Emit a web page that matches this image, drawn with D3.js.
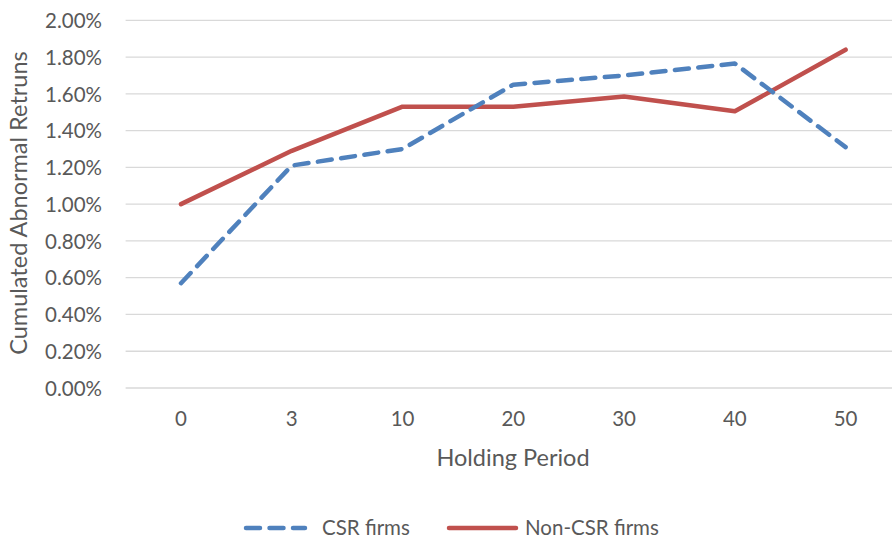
<!DOCTYPE html>
<html><head><meta charset="utf-8">
<script src="https://cdn.jsdelivr.net/npm/d3@7"></script>
<style>body{margin:0;background:#fff}svg{display:block;font-family:Lato,"Open Sans",sans-serif}</style>
</head><body>
<svg id="c" width="892" height="543"></svg>
<script>
const categories = ["0","3","10","20","30","40","50"];
const csrFirms = [0.57, 1.21, 1.30, 1.65, 1.70, 1.765, 1.31];
const nonCsrFirms = [1.00, 1.29, 1.53, 1.53, 1.585, 1.505, 1.84];
const yTicks = [0,0.2,0.4,0.6,0.8,1.0,1.2,1.4,1.6,1.8,2.0];
const seriesNames = ["CSR firms","Non-CSR firms"];

const svg = d3.select("#c");
const x = d3.scaleBand().domain(categories).range([125.6, 901]);
const y = d3.scaleLinear().domain([0, 2]).range([388, 20.3]);
const textCol = "#595959";
const fs = 20.5, fsTitle = 23.5;

// gridlines
svg.append("g").selectAll("line").data(yTicks).join("line")
  .attr("x1", 125.6).attr("x2", 901)
  .attr("y1", d => y(d)).attr("y2", d => y(d))
  .attr("stroke", "#d9d9d9").attr("stroke-width", 1.3);

// y axis labels
const yAxis = d3.axisLeft(y).tickValues(yTicks).tickFormat(d => d.toFixed(2) + "%").tickSize(0).tickPadding(0);
const gy = svg.append("g").attr("transform", "translate(102,0)").call(yAxis);
gy.select(".domain").remove();
gy.selectAll("text").attr("fill", textCol).attr("font-size", fs).attr("font-family", "Lato").attr("dy", "0.35em");

// x axis labels
const xAxis = d3.axisBottom(x).tickSize(0).tickPadding(0);
const gx = svg.append("g").attr("transform", "translate(0,419)").call(xAxis);
gx.select(".domain").remove();
gx.selectAll("text").attr("fill", textCol).attr("font-size", fs).attr("font-family", "Lato").attr("dy", "0.35em");

// axis titles
svg.append("text").attr("x", 513).attr("y", 466).attr("text-anchor", "middle")
  .attr("fill", textCol).attr("font-size", fsTitle).text("Holding Period");
svg.append("text").attr("transform", "translate(27,203) rotate(-90)").attr("text-anchor", "middle")
  .attr("fill", textCol).attr("font-size", fsTitle).text("Cumulated Abnormal Retruns");

const cx = d => x(d) + x.bandwidth() / 2;
const line = d3.line().x((d, i) => cx(categories[i])).y(d => y(d));

svg.append("path").datum(nonCsrFirms).attr("d", line).attr("fill", "none")
  .attr("stroke", "#C0504D").attr("stroke-width", 4.5).attr("stroke-linejoin", "round").attr("stroke-linecap", "round");
svg.append("path").datum(csrFirms).attr("d", line).attr("fill", "none")
  .attr("stroke", "#4F81BD").attr("stroke-width", 4.5).attr("stroke-linejoin", "round").attr("stroke-linecap", "round")
  .attr("stroke-dasharray", "14,9.5");

// legend
const lg = svg.append("g");
lg.append("line").attr("x1", 246).attr("x2", 305).attr("y1", 528).attr("y2", 528)
  .attr("stroke", "#4F81BD").attr("stroke-width", 4.5).attr("stroke-linecap", "round").attr("stroke-dasharray", "14,9.5");
lg.append("text").attr("x", 322).attr("y", 528).attr("dy", "0.35em").attr("fill", textCol).attr("font-size", fs).text(seriesNames[0]);
lg.append("line").attr("x1", 449).attr("x2", 516).attr("y1", 528).attr("y2", 528)
  .attr("stroke", "#C0504D").attr("stroke-width", 4.5).attr("stroke-linecap", "round");
lg.append("text").attr("x", 525).attr("y", 528).attr("dy", "0.35em").attr("fill", textCol).attr("font-size", fs).text(seriesNames[1]);
</script>
</body></html>
